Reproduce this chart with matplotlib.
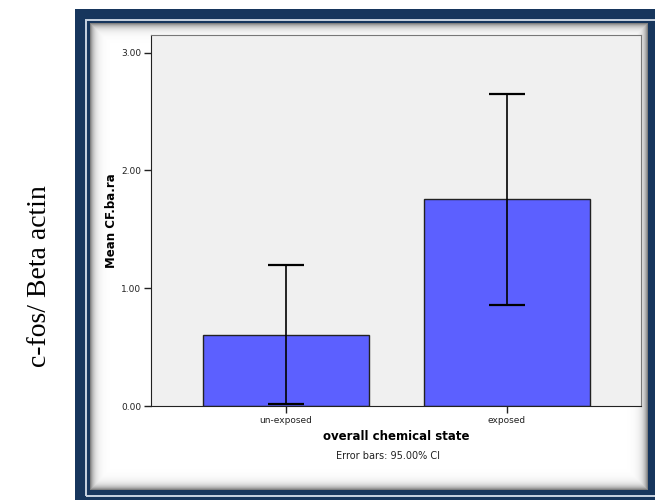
import numpy as np
import matplotlib
matplotlib.use("Agg")
import matplotlib.pyplot as plt
from matplotlib.patches import Rectangle

# data
groups = ["un-exposed", "exposed"]
means = [0.60, 1.76]
ci_low = [0.02, 0.86]
ci_high = [1.20, 2.65]
yticks = [0.0, 1.0, 2.0, 3.0]

W, H = 655, 501
fig = plt.figure(figsize=(W / 100, H / 100), dpi=100)
fig.patch.set_facecolor("white")


def fr(x0, y0, x1, y1):
    # pixel box (top-left origin) -> figure fraction rect
    return [x0 / W, 1 - y1 / H, (x1 - x0) / W, (y1 - y0) / H]


'''Navy frame with thin light line'''
navy = "#17365d"
r = fr(75, 9, 660, 500)
fig.patches.append(Rectangle((r[0], r[1]), r[2], r[3], transform=fig.transFigure,
                             facecolor=navy, edgecolor="none", zorder=0))
r = fr(85.5, 19.5, 660, 496)
fig.patches.append(Rectangle((r[0], r[1]), r[2], r[3], transform=fig.transFigure,
                             facecolor="none", edgecolor="#c8d3e0", lw=1.4, zorder=1))

'''White panel with inner shadow'''
px0, py0, px1, py1 = 90, 23, 648, 490
pan = fig.add_axes(fr(px0, py0, px1, py1), zorder=2)
w, h = px1 - px0, py1 - py0
xx = np.arange(w)[None, :]
yy = np.arange(h)[:, None]
d = np.minimum(np.minimum(xx, w - 1 - xx), np.minimum(yy, h - 1 - yy)).astype(float)
shade = 1 - 0.5 * np.exp(-d / 4.0)
pan.imshow(shade, cmap="gray", vmin=0, vmax=1, aspect="auto", interpolation="bilinear")
pan.axis("off")

'''Bar chart'''
ax = fig.add_axes(fr(151, 35, 641, 406), zorder=3)
ax.set_facecolor("#f0f0f0")
x = np.arange(len(groups))
ax.bar(x, means, width=0.75, color="#5c60ff", edgecolor="#222222", linewidth=1.0, zorder=2)
err = [np.array(means) - np.array(ci_low), np.array(ci_high) - np.array(means)]
ax.errorbar(x, means, yerr=err, fmt="none", ecolor="black", elinewidth=1.2,
            capsize=13, capthick=1.6, zorder=3)
ax.set_xlim(-0.611, 1.606)
ax.set_ylim(0, 3.15)
ax.set_yticks(yticks)
ax.set_yticklabels(["%.2f" % v for v in yticks], fontsize=6.5, color="#222222")
ax.set_xticks(x)
ax.set_xticklabels(groups, fontsize=6.5, color="#222222")
ax.tick_params(axis="both", direction="out", length=5, width=1, color="#222222", pad=2)
for s in ["left", "bottom"]:
    ax.spines[s].set_color("#222222")
for s in ["top", "right"]:
    ax.spines[s].set_color("#777777")
ax.set_ylabel("Mean CF.ba.ra", fontsize=8.5, fontweight="bold", labelpad=2)
ax.set_xlabel("overall chemical state", fontsize=8.5, fontweight="bold", labelpad=4)

fig.text(388 / W, 1 - 456 / H, "Error bars: 95.00% CI", fontsize=7, ha="center", va="center",
         color="#222222", zorder=5)
fig.text(40 / W, 1 - 276 / H, "c-fos/ Beta actin", fontsize=20, family="Liberation Serif",
         rotation=90, ha="center", va="center", color="black")

plt.savefig("out.png", dpi=100)
